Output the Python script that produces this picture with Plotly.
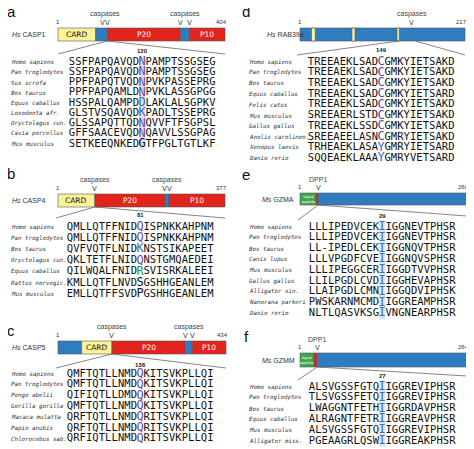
import plotly.graph_objects as go

# ---- data ----
YEL, BLU, RED, GRN = "#fbf29a", "#2f7dc0", "#e3241c", "#3fa64a"

panels = [
    dict(tag="a", name="Hs CASP1", length=404, bar=(58, 225, 28, 41), tagpos=(11, 10), namex=10,
         domains=[(1, 92, YEL, "CARD"), (92, 120, BLU, ""), (120, 297, RED, "P20"), (297, 318, BLU, ""), (318, 404, RED, "P10")],
         cleave=[("caspases", [108, 121]), ("caspases", [297, 318])], zoom=(120, 120), fan=(54, 54),
         site=120, sitey=51, seqx=72, rowy=(62, 10.25),
         species=["Homo sapiens", "Pan troglodytes", "Sus scrofa", "Bos taurus", "Equus caballus",
                  "Loxodonta afr.", "Oryctolagus cun.", "Cavia porcellus", "Mus musculus"],
         seqs=["SSFPAPQAVQDNPAMPTSSGSEG", "SSFPAPQAVQDNPAMPTSSGSEG", "PPFPAPQTVQDNPVKPASSEPRG",
               "PPFPAPQAMLDNPVKLASSGPGG", "HSSPALQAMPDDLAKLALSGPKV", "GLSTVSQAVQDKPADLTSSEPRG",
               "GLSSAPQTTQDNQVVFTFSGPSL", "GFFSAACEVQDNQAVVLSSGPAG", "SETKEEQNKEDGTFPGLTGTLKF"],
         hl=["#6a4c9c"] * 4 + ["#3b6fb6", "#3b6fb6", "#6a4c9c", "#6a4c9c", "#111111"], col="#e6ddf0"),
    dict(tag="b", name="Hs CASP4", length=377, bar=(58, 225, 194, 207), tagpos=(11, 172), namex=10,
         domains=[(1, 84, YEL, "CARD"), (84, 242, RED, "P20"), (242, 251, BLU, ""), (251, 377, RED, "P10")],
         cleave=[("caspases", [84]), ("caspases", [240, 252])], zoom=(84, 84), fan=(218, 218),
         site=81, sitey=215, seqx=70, rowy=(227, 11.2),
         species=["Homo sapiens", "Pan troglodytes", "Bos taurus", "Oryctolagus cun.", "Equus caballus",
                  "Rattus norvegic.", "Mus musculus"],
         seqs=["QMLLQTFFNIDQISPNKKAHPNM", "QMLLQTFFNIDQISPNKKAHPNM", "QVFVQTFLNIDKNSTSIKAPEET",
               "QKLTETFLNIDQNSTGMQAEDEI", "QILWQALFNIDRSVISRKALEEI", "KMLLQTFLNVDSGSHHGEANLEM",
               "EMLLQTFFSVDPGSHHGEANLEM"],
         hl=["#6a4c9c", "#6a4c9c", "#3b6fb6", "#6a4c9c", "#2e9a3a", "#111111", "#111111"], col=None),
    dict(tag="c", name="Hs CASP5", length=434, bar=(58, 226, 341, 354), tagpos=(11, 329), namex=10,
         domains=[(1, 62, BLU, ""), (62, 140, YEL, "CARD"), (140, 329, RED, "P20"), (329, 347, BLU, ""), (347, 434, RED, "P10")],
         cleave=[("caspases", [140]), ("caspases", [329, 347])], zoom=(140, 140), fan=(368, 368),
         site=138, sitey=365, seqx=70, rowy=(374, 10.8),
         species=["Homo sapiens", "Pan troglodytes", "Pongo abelii", "Gorilla gorilla", "Macaca mulatta",
                  "Papio anubis", "Chlorocebus sab."],
         seqs=["QMFTQTLLNMDQKITSVKPLLQI", "QMFTQTLLNMDQKITSVKPLLQI", "QIFIQTLLDMDQKITSVKPLLQI",
               "QMFTQTLLNMDQKITSVKPLLQI", "QRFTQTLLNMDQRITSVKPLLQI", "QRFTQTLLNMDQRITSVKPLLQI",
               "QRFIQTLLNMDQRITSVKPLLQI"],
         hl=["#6a4c9c"] * 7, col=None),
    dict(tag="d", name="Hs RAB39a", length=217, bar=(300, 465, 28, 41), tagpos=(246, 10), namex=265,
         domains=[(1, 217, BLU, ""), (16, 21, YEL, ""), (69, 73, YEL, ""), (128, 131, YEL, "")],
         cleave=[("caspases", [147])], zoom=(131, 152), fan=(55, 55),
         site=149, sitey=50, seqx=311, rowy=(62, 10.7),
         species=["Homo sapiens", "Pan troglodytes", "Bos taurus", "Equus caballus", "Felis catus",
                  "Mus musculus", "Gallus gallus", "Anolis carolinen.", "Xenopus laevis", "Danio rerio"],
         seqs=["TREEAEKLSADCGMKYIETSAKD", "TREEAEKLSADCGMKYIETSAKD", "TREEAEKLSADCGMKYIETSAKD",
               "TREEAEKLSADCGMKYIETSARD", "TREEAEKLSADCGMKYIETSAKD", "SREEAERLSTDCGMKYIETSAKD",
               "TREEAEKLSSDCGMKYIETSAKD", "SREEAEELASNCGMRYIETSAKD", "TRHEAEKLASAYGMRYIETSARD",
               "SQQEAEKLAAAYGMRYVETSARD"],
         hl=["#5a4696"] * 8 + ["#3b6fb6", "#3b6fb6"], col=None),
    dict(tag="e", name="Ms GZMA", length=260, bar=(300, 467, 193, 205), tagpos=(246, 173), namex=260,
         domains=[(1, 26, GRN, "signal peptide"), (26, 29, RED, ""), (29, 260, BLU, "")],
         cleave=[("DPP1", [29])], zoom=(29, 29), fan=(220, 216),
         site=29, sitey=216, seqx=312, rowy=(227, 10.8),
         species=["Homo sapiens", "Pan troglodytes", "Bos taurus", "Canis lupus", "Mus musculus",
                  "Gallus gallus", "Alligator sin.", "Nanorana parkeri", "Danio rerio"],
         seqs=["LLLIPEDVCEKIIGGNEVTPHSR", "LLLIPEDVCEKIIGGNEVTPHSR", "LL-IPEDLCEKIIGGNQVTPHSR",
               "LLLVPGDFCVEIIGGNQVSPHSR", "LLLIPEGGCERIIGGDTVVPHSR", "LLILPGDLCVDIIGGHEVAPHSR",
               "LLAIPGDLCMNIIGGQDVIPHSK", "PWSKARNMCMDIIGGREAMPHSR", "NLTLQASVKSGIVNGNEARPHSR"],
         hl=["#3b6fb6"] * 9, col="#dce8f5"),
    dict(tag="f", name="Ms GZMM", length=264, bar=(300, 467, 353, 367), tagpos=(246, 335), namex=260,
         domains=[(1, 23, GRN, "signal peptide"), (23, 28, RED, ""), (28, 264, BLU, "")],
         cleave=[("DPP1", [28])], zoom=(28, 28), fan=(380, 376),
         site=27, sitey=376, seqx=312, rowy=(387, 10.8),
         species=["Homo sapiens", "Pan troglodytes", "Bos taurus", "Equus caballus", "Mus musculus",
                  "Alligator miss."],
         seqs=["ALSVGSSFGTQIIGGREVIPHSR", "TLSVGSSFETQIIGGREVIPHSR", "LWAGGNTFETHIIGGRDAVPHSR",
               "ALRAGNTFETRIIGGREAVPHSR", "ALSVGSSFGTQIIGGREVIPHSR", "PGEAAGRLQSWIIGGREAKPHSR"],
         hl=["#3b6fb6"] * 6, col="#dce8f5"),
]

CHARW = 6.38
SITE = 11
OFF = 8  # page body margin

fig = go.Figure()
shapes, ann = [], []

for p in panels:
    x0, x1, y0, y1 = p["bar"]
    L = p["length"]
    px = lambda r: x0 + (r - 1) / (L - 1) * (x1 - x0)
    ym = (y0 + y1) / 2
    ann.append(dict(x=p["tagpos"][0], y=p["tagpos"][1] + 1, text=p["tag"], font=dict(size=15, color="#111")))
    ann.append(dict(x=p["namex"], y=ym, text="<i>" + p["name"][:2] + "</i>" + p["name"][2:], xanchor="left",
                    font=dict(size=7, color="#333")))
    ann.append(dict(x=x0, y=y0 - 6, text="1", font=dict(size=6, color="#333")))
    ann.append(dict(x=x1 - 4, y=y0 - 6, text=str(L), font=dict(size=6, color="#333")))
    for a, b, c, lab in p["domains"]:
        shapes.append(dict(type="rect", x0=px(a), x1=px(b), y0=y0, y1=y1, fillcolor=c,
                           line=dict(color="#555", width=0.6)))
        if lab:
            small = lab == "signal peptide"
            ann.append(dict(x=(px(a) + px(b)) / 2, y=ym, text="signal<br>peptide" if small else lab,
                            font=dict(size=3.5 if small else 7.5, color="white" if c != YEL else "#111",
                                      family="DejaVu Sans")))
    for lab, sites in p["cleave"]:
        xs = [px(s) for s in sites]
        ann.append(dict(x=sum(xs) / len(xs), y=y0 - 14, text=lab, font=dict(size=7, color="#444")))
        for xv in xs:
            ann.append(dict(x=xv, y=y0 - 5, text="V", font=dict(size=7, color="#444", family="DejaVu Sans")))
    # fan lines from the zoomed region to the alignment
    za, zb = p["zoom"]
    shapes.append(dict(type="line", x0=px(za), y0=y1, x1=p["seqx"] - 14, y1=p["fan"][0], line=dict(color="#666", width=0.8)))
    shapes.append(dict(type="line", x0=px(zb), y0=y1, x1=x1, y1=p["fan"][1], line=dict(color="#666", width=0.8)))
    sx = p["seqx"] + SITE * CHARW
    ann.append(dict(x=sx, y=p["sitey"], text="<b>%d</b>" % p["site"], font=dict(size=6, color="#222")))
    ry, dy = p["rowy"]
    n = len(p["seqs"])
    if p["col"]:
        shapes.append(dict(type="rect", x0=sx - 3.2, x1=sx + 3.2, y0=ry - 6, y1=ry + (n - 1) * dy + 6,
                           fillcolor=p["col"], line=dict(width=0), layer="below"))
    namex = 9 if p["tag"] in "abc" else 247
    for i, (sp, sq) in enumerate(zip(p["species"], p["seqs"])):
        yy = ry + i * dy
        ann.append(dict(x=namex, y=yy, text="<i>" + sp + "</i>", xanchor="left",
                        font=dict(size=5.8, color="#333", family="DejaVu Sans Mono")))
        xs = [p["seqx"] + k * CHARW for k in range(len(sq))]
        colors = [p["hl"][i] if k == SITE else "#111" for k in range(len(sq))]
        sizes = [12 if k == SITE else 10.5 for k in range(len(sq))]
        fig.add_trace(go.Scatter(x=xs, y=[yy] * len(sq), mode="text", text=list(sq),
                                 textfont=dict(family="DejaVu Sans Mono", color=colors, size=sizes),
                                 hoverinfo="skip", showlegend=False))

for a in ann:
    a.setdefault("showarrow", False)
    a.setdefault("xref", "x")
    a.setdefault("yref", "y")

fig.update_layout(width=474, height=449, margin=dict(l=0, r=0, t=0, b=0),
                  paper_bgcolor="white", plot_bgcolor="white",
                  xaxis=dict(range=[OFF, 474 + OFF], visible=False, fixedrange=True),
                  yaxis=dict(range=[449 + OFF, OFF], visible=False, fixedrange=True),
                  shapes=shapes, annotations=ann,
                  font=dict(family="Liberation Sans"))
fig.write_html("out.html")
